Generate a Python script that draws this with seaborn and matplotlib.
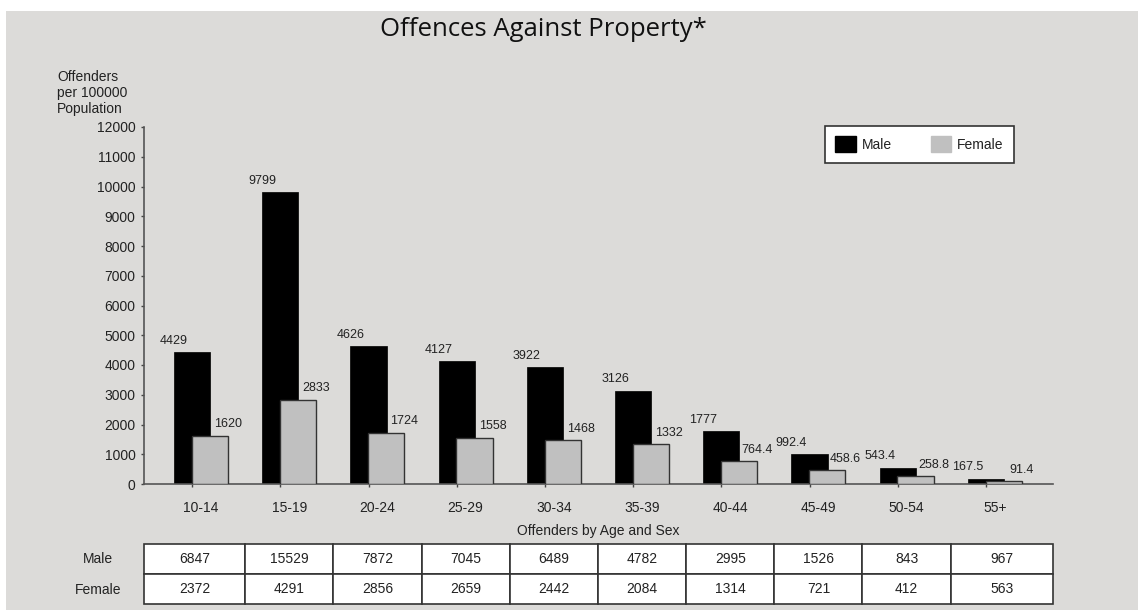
import numpy as np
import matplotlib
matplotlib.use("Agg")
import matplotlib.pyplot as plt
from matplotlib.patches import Patch, Rectangle
import seaborn as sns

# Data
ages = ['10-14', '15-19', '20-24', '25-29', '30-34', '35-39', '40-44', '45-49', '50-54', '55+']
male_rate = [4429, 9799, 4626, 4127, 3922, 3126, 1777, 992.4, 543.4, 167.5]
female_rate = [1620, 2833, 1724, 1558, 1468, 1332, 764.4, 458.6, 258.8, 91.4]
male_count = [6847, 15529, 7872, 7045, 6489, 4782, 2995, 1526, 843, 967]
female_count = [2372, 4291, 2856, 2659, 2442, 2084, 1314, 721, 412, 563]
yticks = list(range(0, 12001, 1000))

bg = '#dcdbd9'
grey = '#c0c0c0'
ink = '#222222'

sns.set_theme(style='white')
plt.rcParams['font.family'] = ['Liberation Sans', 'DejaVu Sans']

W, H = 1138, 610
fig = plt.figure(figsize=(W / 100, H / 100), dpi=100, facecolor='white')
fig.patches.append(Rectangle((6 / W, 0), 1 - 6 / W, (H - 11) / H,
                             transform=fig.transFigure, facecolor=bg,
                             edgecolor='none', zorder=-10))

# axes box in pixels
left_px, right_px, bottom_px, top_px = 144, 1053, 484, 127
ax = fig.add_axes([left_px / W, 1 - bottom_px / H,
                   (right_px - left_px) / W, (bottom_px - top_px) / H])
ax.set_facecolor('none')

n = len(ages)
pos = np.arange(n)
off = 0.1
bw = 0.41

sns.barplot(x=pos - off, y=male_rate, native_scale=True, width=bw, color='black',
            saturation=1, edgecolor='black', linewidth=0.5, ax=ax, zorder=2)
sns.barplot(x=pos + off, y=female_rate, native_scale=True, width=bw, color=grey,
            saturation=1, edgecolor='#333333', linewidth=1.0, ax=ax, zorder=3)

xmin = (left_px - 201) / 88.2
xmax = (right_px - 201) / 88.2
ax.set_xlim(xmin, xmax)
ax.set_ylim(0, 12000)

# value labels: male at left edge, female at right edge of bars
for i in range(n):
    ax.annotate(f"{male_rate[i]:g}", (i - off - bw / 2, male_rate[i]),
                xytext=(0, 4), textcoords='offset points', ha='center', va='bottom',
                fontsize=9, color=ink, zorder=5)
    ax.annotate(f"{female_rate[i]:g}", (i + off + bw / 2, female_rate[i]),
                xytext=(0, 4), textcoords='offset points', ha='center', va='bottom',
                fontsize=9, color=ink, zorder=5)

ax.set_yticks(yticks)
ax.set_yticklabels([str(t) for t in yticks], fontsize=10, color=ink)
ax.tick_params(axis='y', direction='out', length=2.5, width=1, color='#444444', pad=3.5, left=True)

ax.set_xticks(pos)
ax.set_xticklabels(ages, fontsize=10, color=ink)
ax.tick_params(axis='x', which='major', length=0, pad=12)
ax.set_xticks(pos - off, minor=True)
ax.tick_params(axis='x', which='minor', direction='out', length=2.5, width=1,
               color='#444444', bottom=True)

for s in ['top', 'right']:
    ax.spines[s].set_visible(False)
for s in ['left', 'bottom']:
    ax.spines[s].set_color('#555555')
    ax.spines[s].set_linewidth(1.2)
ax.set_xlabel('')
ax.set_ylabel('')

# y axis caption
fig.text(57 / W, 1 - 70 / H, 'Offenders\nper 100000\nPopulation', ha='left', va='top',
         multialignment='left', fontsize=10, color=ink)

# title
fig.text(543 / W, 1 - 30 / H, 'Offences Against Property*', ha='center', va='center',
         fontsize=18.5, color='#111111', family=['Open Sans', 'DejaVu Sans'])

# legend
handles = [Patch(facecolor='black', edgecolor='black', label='Male'),
           Patch(facecolor=grey, edgecolor=grey, label='Female')]
leg = fig.legend(handles=handles, loc='upper left', bbox_to_anchor=(825 / W, 1 - 126 / H),
                 ncol=2, fontsize=10, frameon=True, fancybox=False, framealpha=1,
                 handlelength=1.45, handleheight=1.4, handletextpad=0.45,
                 columnspacing=2.8, borderpad=0.75, borderaxespad=0)
leg.get_frame().set_edgecolor('#333333')
leg.get_frame().set_linewidth(1.2)
leg.get_frame().set_facecolor('white')
for t in leg.get_texts():
    t.set_color(ink)

# table of offender counts
fig.text(598 / W, 1 - 531 / H, 'Offenders by Age and Sex', ha='center', va='center',
         fontsize=10, color=ink)
col_w = [0.5 - xmin] + [1.0] * (n - 2) + [xmax - (n - 1.5)]
ax_h = bottom_px - top_px
tbl = ax.table(cellText=[[str(v) for v in male_count], [str(v) for v in female_count]],
               colWidths=col_w, cellLoc='center',
               bbox=[0, (bottom_px - 604) / ax_h, 1, 60 / ax_h])
tbl.auto_set_font_size(False)
tbl.set_fontsize(10)
for (r, c), cell in tbl.get_celld().items():
    cell.set_edgecolor('#333333')
    cell.set_linewidth(1.2)
    cell.set_facecolor('white')
    cell.get_text().set_color(ink)
fig.text(98 / W, 1 - 559 / H, 'Male', ha='center', va='center', fontsize=10, color=ink)
fig.text(98 / W, 1 - 590 / H, 'Female', ha='center', va='center', fontsize=10, color=ink)

fig.savefig('out.png', dpi=100, facecolor='white')
